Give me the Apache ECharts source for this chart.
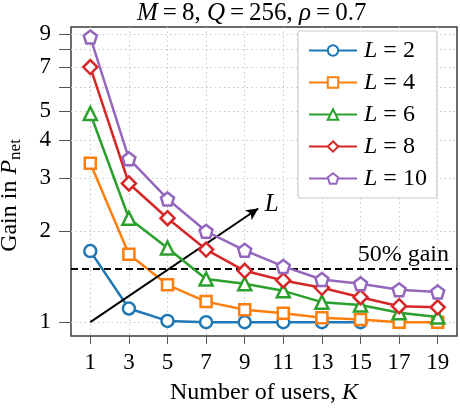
<!DOCTYPE html>
<html><head><meta charset="utf-8">
<script src="https://cdn.jsdelivr.net/npm/echarts@6/dist/echarts.min.js"></script>
<style>html,body{margin:0;padding:0;background:#fff}#c{width:460px;height:412px}</style>
</head><body><div id="c"></div>
<script>
const usersK = [1, 3, 5, 7, 9, 11, 13, 15, 17, 19];
const gainL2 = [1.72, 1.11, 1.01, 1.0, 1.0, 1.0, 1.0, 1.0];
const gainL4 = [3.36, 1.68, 1.33, 1.17, 1.10, 1.07, 1.035, 1.02, 1.0, 1.0];
const gainL6 = [4.91, 2.21, 1.76, 1.39, 1.34, 1.27, 1.165, 1.14, 1.075, 1.04];
const gainL8 = [7.0, 2.88, 2.21, 1.74, 1.48, 1.375, 1.30, 1.21, 1.13, 1.12];
const gainL10 = [8.8, 3.48, 2.56, 2.0, 1.73, 1.53, 1.385, 1.34, 1.28, 1.26];
const seriesNames = ['L = 2', 'L = 4', 'L = 6', 'L = 8', 'L = 10'];
const seriesData = [gainL2, gainL4, gainL6, gainL8, gainL10];
const yTicks = [1, 2, 3, 4, 5, 6, 7, 8, 9];
const yTickLabels = [1, 2, 3, 4, 5, 7, 9];
const gainThreshold = 1.5;
const arrowStart = [1, 1];
const arrowEnd = [9.7, 2.38];

const colors = ['#1f77b4', '#ff7f0e', '#2ca02c', '#d62728', '#9467bd'];
const symbols = ['circle', 'rect', 'triangle', 'diamond',
  'path://M0,-1 L0.951,-0.309 L0.588,0.809 L-0.588,0.809 L-0.951,-0.309 Z'];
const symbolSizes = [12, 11, 13, 14, 13];
const FONT = 'Liberation Serif';
const FS = 23;
const NFS = 24;
const ital = (fs) => ({ fontFamily: FONT, fontSize: fs, fontStyle: 'italic', color: '#000' });
const eqs = (fs, p) => ({ fontFamily: FONT, fontSize: fs, color: '#000', padding: [0, p, 0, p] });

const series = seriesData.map((vals, i) => ({
  name: seriesNames[i],
  type: 'line',
  data: vals.map((v, j) => [usersK[j], v]),
  symbol: symbols[i],
  symbolSize: symbolSizes[i],
  showAllSymbol: true,
  lineStyle: { color: colors[i], width: 2.5 },
  itemStyle: { color: '#fff', borderColor: colors[i], borderWidth: 2.5 },
  z: 3 + i,
  animation: false
}));

series[0].markLine = {
  silent: true,
  animation: false,
  symbol: ['none', 'none'],
  lineStyle: { color: '#000', type: [7, 4], width: 2 },
  label: {
    show: true, position: 'insideEndTop', formatter: '50% gain',
    fontFamily: FONT, fontSize: NFS, color: '#000', distance: [8, 2]
  },
  data: [{ yAxis: gainThreshold }]
};
series[1].markLine = {
  silent: true,
  animation: false,
  symbol: ['none', 'arrow'],
  symbolSize: [9, 12],
  lineStyle: { color: '#000', type: 'solid', width: 2 },
  label: {
    show: true, position: 'end', formatter: 'L',
    fontFamily: FONT, fontStyle: 'italic', fontSize: 25, color: '#000', distance: 8
  },
  data: [[{ coord: arrowStart }, { coord: arrowEnd }]]
};

const chart = echarts.init(document.getElementById('c'));
chart.setOption({
  animation: false,
  backgroundColor: '#fff',
  textStyle: { fontFamily: FONT },
  title: {
    text: '{i|M}{e|=}8, {i|Q}{e|=}256, {i|ρ}{e|=}0.7',
    left: 132, top: -4,
    textStyle: {
      fontFamily: FONT, fontSize: 25, fontWeight: 'normal', color: '#000',
      rich: { i: ital(25), e: eqs(25, 5) }
    }
  },
  legend: {
    orient: 'vertical', left: 298, top: 31, width: 158,
    padding: [7, 10, 7, 10],
    itemWidth: 48, itemHeight: 13, itemGap: 7,
    backgroundColor: '#fff', borderColor: '#ccc', borderWidth: 1.2, borderRadius: 2,
    formatter: (name) => '{i|L}{e|=}' + name.split('= ')[1],
    textStyle: {
      fontFamily: FONT, fontSize: NFS, color: '#000', lineHeight: 25, padding: [0, 0, 0, 2],
      rich: { i: Object.assign(ital(NFS), { lineHeight: 25 }), e: Object.assign(eqs(NFS, 6), { lineHeight: 25 }) }
    },
    data: seriesNames
  },
  grid: {
    left: 71, right: 3, top: 27, bottom: 76, show: true,
    borderColor: '#3a3a3a', borderWidth: 1.5,
    containLabel: false, outerBoundsMode: 'none'
  },
  xAxis: {
    type: 'value', min: 0, max: 20,
    name: 'Number of users, {i|K}',
    nameLocation: 'middle', nameGap: 45,
    nameTextStyle: {
      fontFamily: FONT, fontSize: NFS, color: '#000',
      rich: { i: ital(NFS) }
    },
    axisLine: { show: false },
    axisTick: { show: true, customValues: usersK, length: 8, lineStyle: { color: '#555' } },
    axisLabel: { customValues: usersK, margin: 15, fontFamily: FONT, fontSize: FS, color: '#000' },
    splitLine: { show: true, lineStyle: { color: '#c8c8c8', type: [1.5, 3], width: 1 } }
  },
  yAxis: {
    type: 'log', logBase: 10, min: 0.9, max: 9.5,
    name: 'Gain in {i|P}{s|net}',
    nameLocation: 'middle', nameGap: 47, nameRotate: 90,
    nameTextStyle: {
      fontFamily: FONT, fontSize: NFS, color: '#000', padding: [0, 28, 0, 0],
      rich: {
        i: ital(NFS),
        s: { fontFamily: FONT, fontSize: 17, color: '#000', padding: [12, 0, 0, 0] }
      }
    },
    axisLine: { show: false },
    axisTick: { show: true, customValues: yTicks, length: 12, lineStyle: { color: '#555' } },
    axisLabel: { customValues: yTickLabels, margin: 20, fontFamily: FONT, fontSize: FS, color: '#000' },
    splitLine: { show: true, lineStyle: { color: '#c8c8c8', type: [1.5, 3], width: 1 } },
    minorTick: { show: false }
  },
  series: series
});
</script></body></html>
